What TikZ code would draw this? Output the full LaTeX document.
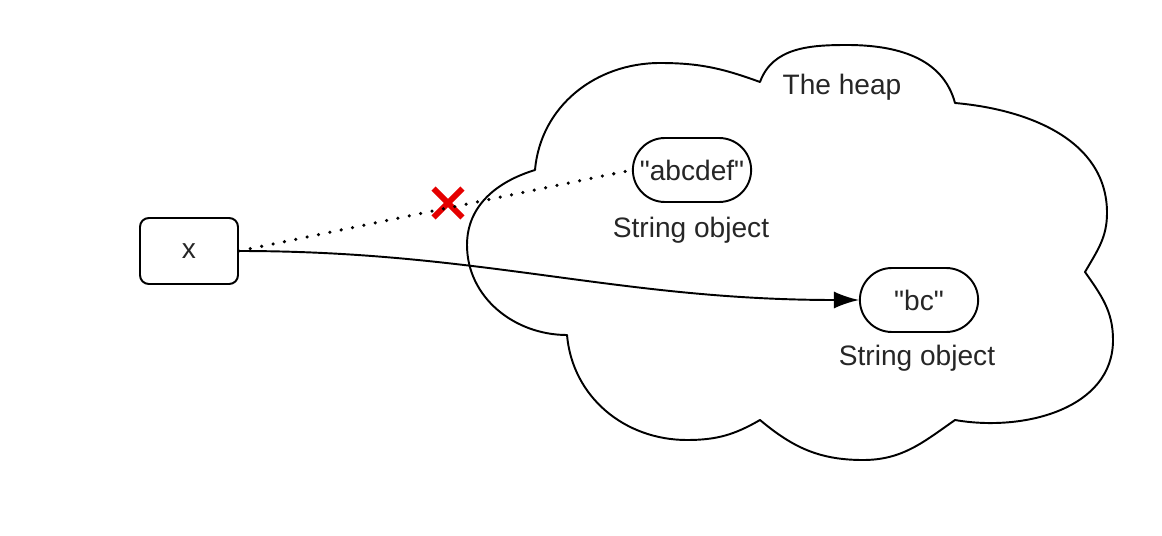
\documentclass[tikz,border=0pt]{standalone}
\usepackage{fontspec}
\setmainfont{Liberation Sans}[Ligatures=TeXOff]
\usetikzlibrary{arrows.meta,shapes.misc,positioning}

\tikzset{
  cloudline/.style={line width=1.1pt, line join=round},
  varbox/.style={draw, line width=1.1pt, rounded corners=5pt, minimum width=1.96cm, minimum height=1.32cm},
  strobj/.style={draw, line width=1.1pt, rounded rectangle, minimum width=2.6cm, minimum height=1.28cm},
  objlabel/.style={text=black!85}
}

\begin{document}
\begin{tikzpicture}[x=0.02cm, y=0.02cm, font=\fontsize{16}{19}\selectfont, text=black!85]
  \useasboundingbox (0,0) rectangle (1162,535);

  % The heap
  \draw[cloudline] (535,365) to[out=197,in=90] (467,290) to[out=-90,in=180] (567,200)
    to[out=-85,in=180] (687,95) to[out=0,in=210] (760,115)
    to[out=-40,in=180] (863,75) to[out=0,in=215] (955,115)
    to[out=-10,in=-90] (1113,195) to[out=90,in=-55] (1085,263)
    to[out=60,in=-90] (1107,322) to[out=90,in=-5] (955,432)
    to[out=105,in=0] (847,490) to[out=180,in=70] (760,453)
    to[out=160,in=0] (660,472) to[out=180,in=85] (535,365) -- cycle;
  \node[objlabel] (heap) at (842,448) {The heap};

  %Define nodes
  \node[varbox] (x) at (189,284) {x};
  \node[strobj] (abcdef) at (692,365) {"abcdef"};
  \node[objlabel] (abcdef_l) at (691,305) {String object};
  \node[strobj] (bc) at (919,235) {"bc"};
  \node[objlabel] (bc_l) at (917,177) {String object};
  \node[cross out, draw=red!90!black, line width=3.4pt, minimum size=0.46cm, inner sep=0pt] (cut) at (448,332) {};

  % Connect the nodes
  \draw[line width=2pt, line cap=round, dash pattern=on 0pt off 6.6pt] (x.east) -- (abcdef.west);
  \draw[line width=1.1pt, -{Latex[length=5mm,width=3.4mm]}] (x.east) to[out=0,in=180] (bc.west);
\end{tikzpicture}
\end{document}
